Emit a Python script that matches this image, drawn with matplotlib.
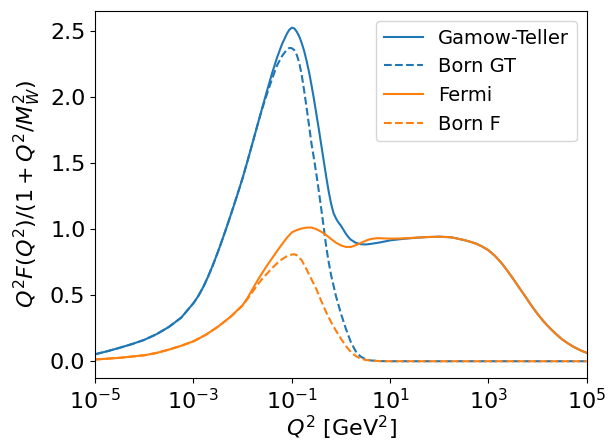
import numpy as np
import matplotlib
matplotlib.use("Agg")
import matplotlib.pyplot as plt
from matplotlib.ticker import FixedLocator, NullLocator, LogFormatterMathtext

plt.rcParams['font.size'] = 16

# log10(Q^2) positions and curve values
gt_logq = [-5.0, -4.75, -4.5, -4.25, -4.0, -3.75, -3.5, -3.25, -3.0, -2.9, -2.8, -2.7, -2.6,
           -2.5, -2.4, -2.3, -2.2, -2.1, -2.0, -1.9, -1.8, -1.7, -1.6, -1.5, -1.4, -1.3, -1.2,
           -1.1, -1.05, -1.0, -0.95, -0.9, -0.85, -0.8, -0.75, -0.7, -0.65, -0.6, -0.55, -0.5,
           -0.45, -0.4, -0.35, -0.3, -0.25, -0.2, -0.15, -0.1, -0.05, 0.0, 0.05, 0.1, 0.15, 0.2,
           0.3, 0.4, 0.5, 0.6, 0.8, 1.0, 1.25, 1.5, 1.75, 2.0, 2.25, 2.5, 2.625, 2.75, 2.875,
           3.0, 3.125, 3.25, 3.375, 3.5, 3.625, 3.75, 3.875, 4.0, 4.125, 4.25, 4.375, 4.5, 4.625,
           4.75, 4.875, 5.0]
gt_val = [0.053, 0.076, 0.102, 0.13, 0.162, 0.205, 0.26, 0.33, 0.44, 0.495, 0.563, 0.643, 0.733,
          0.831, 0.935, 1.043, 1.155, 1.27, 1.388, 1.518, 1.651, 1.786, 1.921, 2.054, 2.182, 2.30, 2.40,
          2.48, 2.51, 2.525, 2.52, 2.495, 2.46, 2.41, 2.35, 2.275, 2.19, 2.09, 1.985, 1.87,
          1.755, 1.635, 1.515, 1.395, 1.285, 1.19, 1.12, 1.08, 1.05, 1.025, 0.995, 0.965, 0.94, 0.92,
          0.897, 0.886, 0.884, 0.888, 0.90, 0.915, 0.926, 0.934, 0.94, 0.943, 0.938, 0.918, 0.905, 0.89, 0.868,
          0.84, 0.80, 0.75, 0.69, 0.625, 0.557, 0.49, 0.42, 0.357, 0.30, 0.25, 0.205, 0.165, 0.133,
          0.105, 0.082, 0.063]

born_gt_logq = [-5.0, -4.75, -4.5, -4.25, -4.0, -3.75, -3.5, -3.25, -3.0, -2.9, -2.8, -2.7, -2.6,
                -2.5, -2.4, -2.3, -2.2, -2.1, -2.0, -1.9, -1.8, -1.7, -1.6, -1.5, -1.4, -1.3, -1.2,
                -1.1, -1.05, -1.0, -0.95, -0.9, -0.85, -0.8, -0.75, -0.7, -0.65, -0.6, -0.55, -0.5,
                -0.45, -0.4, -0.35, -0.3, -0.25, -0.2, -0.1, 0.0, 0.1, 0.2, 0.3, 0.4, 0.5, 0.6, 0.8,
                1.0, 2.0, 3.0, 4.0, 5.0]
born_gt_val = [0.053, 0.076, 0.102, 0.13, 0.162, 0.205, 0.26, 0.33, 0.44, 0.495, 0.563, 0.643, 0.733,
               0.831, 0.935, 1.043, 1.155, 1.27, 1.388, 1.518, 1.651, 1.786, 1.915, 2.03, 2.14, 2.24, 2.31,
               2.36, 2.372, 2.37, 2.355, 2.32, 2.26, 2.17, 2.05, 1.92, 1.785, 1.647, 1.535, 1.415,
               1.285, 1.15, 1.01, 0.865, 0.75, 0.65, 0.49, 0.36, 0.245, 0.145, 0.075, 0.035, 0.015, 0.006, 0.001,
               0.0, 0.0, 0.0, 0.0, 0.0]

f_logq = [-5.0, -4.5, -4.0, -3.75, -3.5, -3.25, -3.0, -2.75, -2.5, -2.25, -2.0, -1.9, -1.8, -1.7,
          -1.6, -1.5, -1.4, -1.3, -1.2, -1.1, -1.0, -0.95, -0.9, -0.8, -0.7, -0.6, -0.5, -0.4,
          -0.3, -0.2, -0.1, 0.0, 0.1, 0.2, 0.3, 0.4, 0.5, 0.6, 0.75, 1.0, 1.25, 1.5, 1.75, 2.0,
          2.25, 2.5, 2.625, 2.75, 2.875, 3.0, 3.125, 3.25, 3.375, 3.5, 3.625, 3.75, 3.875, 4.0,
          4.125, 4.25, 4.375, 4.5, 4.625, 4.75, 4.875, 5.0]
f_val = [0.013, 0.026, 0.045, 0.063, 0.088, 0.117, 0.151, 0.20, 0.262, 0.335, 0.425, 0.48, 0.545, 0.61,
         0.67, 0.727, 0.78, 0.835, 0.885, 0.935, 0.975, 0.985, 0.993, 1.005, 1.012, 1.012, 1.0, 0.98,
         0.955, 0.925, 0.897, 0.877, 0.865, 0.865, 0.878, 0.895, 0.912, 0.925, 0.932, 0.928, 0.93, 0.935, 0.94, 0.943,
         0.938, 0.918, 0.905, 0.89, 0.868, 0.84, 0.80, 0.75, 0.69, 0.625, 0.557, 0.49, 0.42, 0.357,
         0.30, 0.25, 0.205, 0.165, 0.133, 0.105, 0.082, 0.063]

born_f_logq = [-5.0, -4.5, -4.0, -3.75, -3.5, -3.25, -3.0, -2.75, -2.5, -2.25, -2.0, -1.9, -1.8,
               -1.7, -1.6, -1.5, -1.4, -1.3, -1.2, -1.1, -1.0, -0.95, -0.9, -0.8, -0.7, -0.6, -0.5,
               -0.4, -0.3, -0.2, -0.1, 0.0, 0.1, 0.2, 0.3, 0.4, 0.5, 0.6, 0.8, 1.0, 2.0, 3.0, 4.0, 5.0]
born_f_val = [0.013, 0.026, 0.045, 0.063, 0.088, 0.117, 0.151, 0.20, 0.262, 0.335, 0.422, 0.472, 0.525,
              0.578, 0.625, 0.665, 0.705, 0.742, 0.772, 0.795, 0.808, 0.81, 0.803, 0.765, 0.695, 0.62, 0.545,
              0.455, 0.37, 0.295, 0.23, 0.17, 0.115, 0.07, 0.04, 0.02, 0.01, 0.005, 0.001, 0.0, 0.0, 0.0, 0.0, 0.0]

x_ticks = [1e-5, 1e-3, 1e-1, 1e1, 1e3, 1e5]

fig = plt.figure(figsize=(6.1, 4.42), dpi=100)
ax = fig.add_axes([0.156, 0.145, 0.806, 0.83])

ax.plot(10.0 ** np.array(gt_logq), gt_val, color='C0', lw=1.5, label='Gamow-Teller')
ax.plot(10.0 ** np.array(born_gt_logq), born_gt_val, color='C0', lw=1.5, ls='--', label='Born GT')
ax.plot(10.0 ** np.array(f_logq), f_val, color='C1', lw=1.5, label='Fermi')
ax.plot(10.0 ** np.array(born_f_logq), born_f_val, color='C1', lw=1.5, ls='--', label='Born F')

ax.set_xscale('log')
ax.set_xlim(1e-5, 1e5)
ax.xaxis.set_major_locator(FixedLocator(x_ticks))
ax.xaxis.set_major_formatter(LogFormatterMathtext())
ax.xaxis.set_minor_locator(NullLocator())

ax.set_xlabel(r'$Q^2$ [GeV$^2$]', fontsize=16, labelpad=1)
ax.set_ylabel(r'$Q^2F(Q^2)/(1+Q^2/M_W^2)$', fontsize=16, labelpad=5)
ax.legend(loc='upper right', fontsize=14)

fig.savefig('out.png', dpi=100)
